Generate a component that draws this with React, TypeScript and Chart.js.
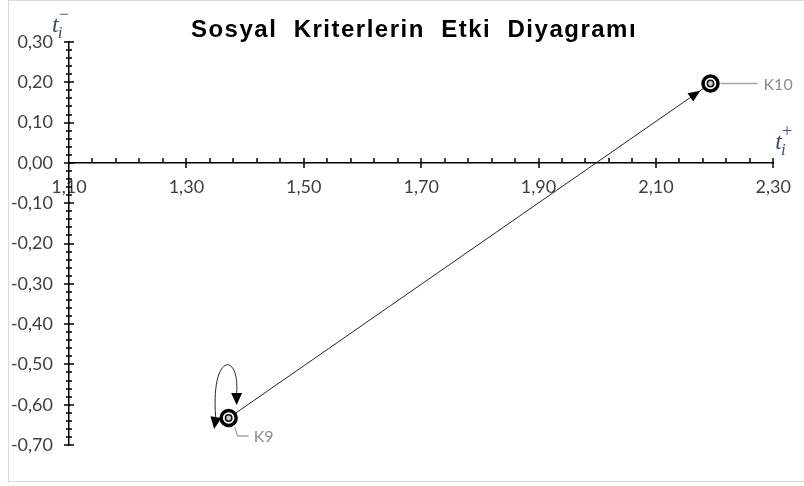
import React, { useEffect, useRef } from "react";
import { Chart, registerables } from "chart.js";

Chart.register(...registerables);

// ---- data ----
const criteria = ["K9", "K10"];
const tPlusValues = [1.372, 2.193];
const tMinusValues = [-0.633, 0.197];
const xBounds = [1.1, 2.3];
const yBounds = [-0.7, 0.3];
const xMajorStep = 0.2;
const xMinorStep = 0.04;
const yMajorStep = 0.1;
const yMinorStep = 0.02;
const chartTitle = "Sosyal  Kriterlerin  Etki  Diyagramı";
const xAxisLabel = ["t", "i", "+"];
const yAxisLabel = ["t", "i", "−"];
const selfLoopCriteria = ["K9"];

const fmt = (v: number) => (Math.abs(v) < 1e-9 ? 0 : v).toFixed(2).replace(".", ",");

const TICK_FONT = { family: "Lato, 'Open Sans', sans-serif", size: 18 };
const MATH_COLOR = "#3f4e6b";

function arrowHead(ctx: CanvasRenderingContext2D, tx: number, ty: number, angle: number, len = 10, half = 4.5) {
  ctx.save();
  ctx.translate(tx, ty);
  ctx.rotate(angle);
  ctx.beginPath();
  ctx.moveTo(0, 0);
  ctx.lineTo(-len, -half);
  ctx.lineTo(-len, half);
  ctx.closePath();
  ctx.fill();
  ctx.restore();
}

function mathLabel(ctx: CanvasRenderingContext2D, x: number, y: number, parts: string[]) {
  ctx.save();
  ctx.fillStyle = MATH_COLOR;
  ctx.textBaseline = "alphabetic";
  ctx.textAlign = "left";
  ctx.font = "italic 24px 'Liberation Serif', 'DejaVu Serif', serif";
  ctx.fillText(parts[0], x, y);
  const w = ctx.measureText(parts[0]).width;
  ctx.font = "italic 17px 'Liberation Serif', 'DejaVu Serif', serif";
  ctx.fillText(parts[1], x + w - 1, y + 6);
  ctx.font = "18px 'Liberation Serif', 'DejaVu Serif', serif";
  ctx.fillText(parts[2], x + w, y - 12);
  ctx.restore();
}

const decorPlugin = {
  id: "decor",
  beforeDraw(chart: any) {
    const { ctx, width, height } = chart;
    ctx.save();
    ctx.fillStyle = "#ffffff";
    ctx.fillRect(0, 0, width, height);
    ctx.strokeStyle = "#d9d9d9";
    ctx.lineWidth = 1;
    ctx.strokeRect(8.5, 0.5, width + 20, 481);
    ctx.restore();
  },
  afterDatasetsDraw(chart: any) {
    const { ctx } = chart;
    const xs = chart.scales.x;
    const ys = chart.scales.y;
    const pts = criteria.map((_, i) => ({
      x: xs.getPixelForValue(tPlusValues[i]),
      y: ys.getPixelForValue(tMinusValues[i]),
    }));
    ctx.save();
    ctx.fillStyle = "#000";
    ctx.strokeStyle = "#000";
    const a = pts[0], b = pts[1];
    const ang = Math.atan2(b.y - a.y, b.x - a.x);
    arrowHead(ctx, b.x - Math.cos(ang) * 12.5, b.y - Math.sin(ang) * 12.5, ang, 12, 5);

    criteria.forEach((c, i) => {
      if (!selfLoopCriteria.includes(c)) return;
      const { x: cx, y: cy } = pts[i];
      ctx.lineWidth = 1;
      ctx.strokeStyle = "#262626";
      ctx.beginPath();
      ctx.moveTo(cx - 13, cy - 1);
      ctx.bezierCurveTo(cx - 18, cy - 66, cx + 11, cy - 66, cx + 8, cy - 25);
      ctx.stroke();
      arrowHead(ctx, cx + 8, cy - 13, Math.PI / 2, 12, 5.5);
      arrowHead(ctx, cx - 14.5, cy + 11, Math.PI / 2 + 0.15, 12, 5.5);
    });

    ctx.strokeStyle = "#a6a6a6";
    ctx.lineWidth = 1.3;
    ctx.fillStyle = "#8c8c8c";
    ctx.font = "16px Lato, 'Open Sans', sans-serif";
    ctx.textBaseline = "middle";
    ctx.textAlign = "left";
    criteria.forEach((c, i) => {
      const { x: cx, y: cy } = pts[i];
      ctx.beginPath();
      if (tMinusValues[i] < 0) {
        ctx.moveTo(cx + 6, cy + 9);
        ctx.lineTo(cx + 9, cy + 18);
        ctx.lineTo(cx + 20, cy + 18);
        ctx.stroke();
        ctx.fillText(c, cx + 25, cy + 19);
      } else {
        ctx.moveTo(cx + 10, cy);
        ctx.lineTo(cx + 47, cy);
        ctx.stroke();
        ctx.fillText(c, cx + 53, cy + 1);
      }
    });
    ctx.restore();
  },
  afterDraw(chart: any) {
    const { ctx } = chart;
    const xs = chart.scales.x;
    const ys = chart.scales.y;
    const x0 = Math.round(xs.getPixelForValue(xBounds[0]));
    const y0 = Math.round(ys.getPixelForValue(0));
    ctx.save();
    ctx.strokeStyle = "#000";
    ctx.lineWidth = 1.5;
    ctx.beginPath();
    const nx = Math.round((xBounds[1] - xBounds[0]) / xMinorStep);
    const xEvery = Math.round(xMajorStep / xMinorStep);
    for (let i = 1; i <= nx; i++) {
      const px = Math.round(xs.getPixelForValue(xBounds[0] + i * xMinorStep));
      const major = i % xEvery === 0;
      ctx.moveTo(px, y0 - 5);
      ctx.lineTo(px, major ? y0 + 5 : y0);
    }
    const ny = Math.round((yBounds[1] - yBounds[0]) / yMinorStep);
    const yEvery = Math.round(yMajorStep / yMinorStep);
    for (let i = 0; i <= ny; i++) {
      const py = Math.round(ys.getPixelForValue(yBounds[0] + i * yMinorStep));
      const major = i % yEvery === 0;
      ctx.moveTo(x0 - (major ? 5 : 3), py);
      ctx.lineTo(x0 + (major ? 5 : 3), py);
    }
    ctx.stroke();

    mathLabel(ctx, x0 - 17, 32, yAxisLabel);
    mathLabel(ctx, xs.right + 2, y0 - 14, xAxisLabel);

    ctx.fillStyle = "#000";
    ctx.font = "bold 24px 'Liberation Sans', Arial, sans-serif";
    (ctx as any).letterSpacing = "1.5px";
    ctx.textAlign = "left";
    ctx.textBaseline = "alphabetic";
    const tw = ctx.measureText(chartTitle).width;
    ctx.fillText(chartTitle, 414 - tw / 2, 37);
    ctx.restore();
  },
};

export default function App() {
  const ref = useRef<HTMLCanvasElement | null>(null);
  useEffect(() => {
    if (!ref.current) return;
    const points = criteria.map((_, i) => ({ x: tPlusValues[i], y: tMinusValues[i] }));
    const chart = new Chart(ref.current, {
      type: "scatter",
      data: {
        datasets: [
          {
            label: "line",
            data: points,
            showLine: true,
            borderColor: "#262626",
            borderWidth: 1,
            pointRadius: 0,
            order: 3,
          },
          {
            label: "outer",
            data: points,
            pointRadius: 7.5,
            pointBorderWidth: 3.5,
            pointBackgroundColor: "#ffffff",
            pointBorderColor: "#000000",
            order: 2,
          },
          {
            label: "inner",
            data: points,
            pointRadius: 3.2,
            pointBorderWidth: 1.6,
            pointBackgroundColor: "#cfcfcf",
            pointBorderColor: "#111111",
            order: 1,
          },
        ],
      },
      options: {
        animation: false,
        responsive: false,
        devicePixelRatio: 1,
        layout: { padding: { left: 8, top: 42, right: 28, bottom: 41 } },
        plugins: { legend: { display: false }, tooltip: { enabled: false }, title: { display: false } },
        scales: {
          x: {
            type: "linear",
            position: { y: 0 } as any,
            min: xBounds[0],
            max: xBounds[1],
            ticks: {
              stepSize: xMajorStep,
              padding: 13,
              color: "#404040",
              font: TICK_FONT,
              maxRotation: 0,
              autoSkip: false,
              callback: (v: any) => fmt(Number(v)),
            },
            grid: { drawOnChartArea: false, drawTicks: false },
            border: { display: true, color: "#000", width: 1.5 },
          },
          y: {
            type: "linear",
            position: "left",
            min: yBounds[0],
            max: yBounds[1],
            afterFit: (s: any) => {
              s.width = 61;
            },
            ticks: {
              stepSize: yMajorStep,
              padding: 16,
              color: "#404040",
              font: TICK_FONT,
              autoSkip: false,
              callback: (v: any) => fmt(Number(v)),
            },
            grid: { drawOnChartArea: false, drawTicks: false },
            border: { display: true, color: "#000", width: 1.5 },
          },
        },
      },
      plugins: [decorPlugin],
    });
    return () => chart.destroy();
  }, []);
  return (
    <div style={{ position: "fixed", left: 0, top: 0, width: 804, height: 486, background: "#fff" }}>
      <canvas ref={ref} width={804} height={486} style={{ display: "block" }} />
    </div>
  );
}
